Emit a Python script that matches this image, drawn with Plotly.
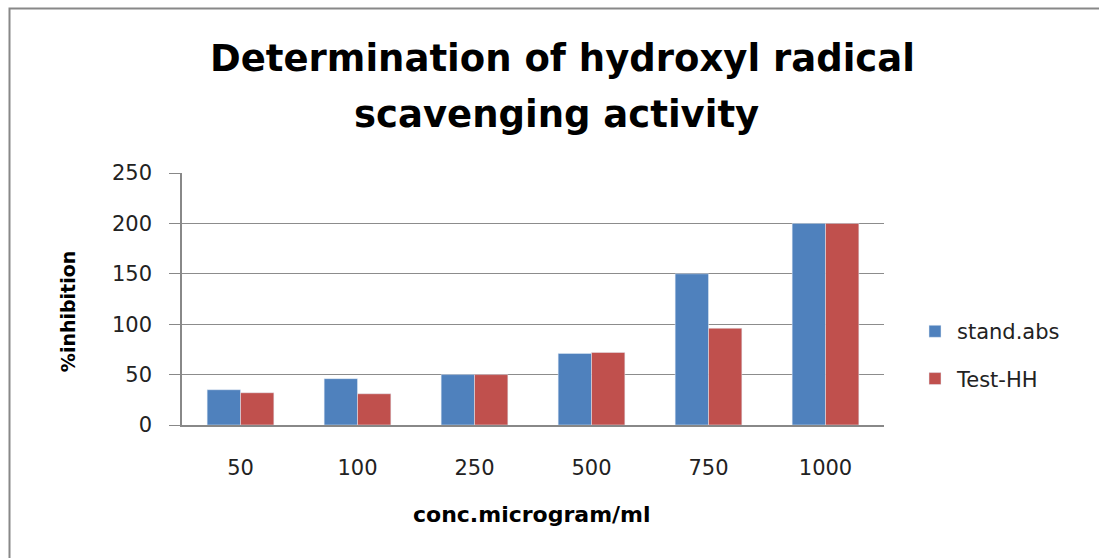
import plotly.graph_objects as go

categories = ["50", "100", "250", "500", "750", "1000"]
stand_abs = [35, 46, 50, 71, 150, 200]
test_hh = [32, 31, 50, 72, 96, 200]
y_ticks = [0, 50, 100, 150, 200, 250]
title_lines = ["Determination of hydroxyl radical", "scavenging activity"]

W, H = 1099, 558
L, R, T, B = 182, 884, 172.7, 425

def px(x):
    return (x - L) / (R - L)

def py(y):
    return (B - y) / (B - T)

FONT = "'DejaVu Sans', Verdana, sans-serif"

fig = go.Figure()
fig.add_trace(go.Bar(x=categories, y=stand_abs, name="stand.abs", marker_color="#4F81BD",
                     legendgroup="a"))
fig.add_trace(go.Bar(x=categories, y=test_hh, name="Test-HH", marker_color="#C0504D",
                     legendgroup="b"))

fig.update_layout(
    width=W, height=H,
    margin=dict(l=L, r=W - R, t=T, b=H - B, pad=0),
    paper_bgcolor="white", plot_bgcolor="white",
    barmode="group", bargap=0.43, bargroupgap=0,
    font=dict(family=FONT, color="#222222"),
    legend=dict(x=px(913), y=py(311), xanchor="left", yanchor="top",
                font=dict(size=21, family=FONT, color="#222222"),
                tracegroupgap=17, itemwidth=34, bgcolor="rgba(0,0,0,0)"),
    showlegend=True,
)
fig.update_xaxes(showline=True, linecolor="#888888", linewidth=1.5, showgrid=False,
                 ticks="", tickfont=dict(size=21, color="#222222"),
                 ticklabelstandoff=23)
fig.update_yaxes(range=[0, 250], tickvals=y_ticks, showline=True, linecolor="#888888",
                 linewidth=1.5, showgrid=True, gridcolor="#8c8c8c", gridwidth=1.2,
                 ticks="outside", ticklen=11, tickcolor="#888888",
                 tickfont=dict(size=21, color="#222222"), zeroline=False,
                 ticklabelstandoff=13)

# title (two lines)
for line, cx, cy in zip(title_lines, [562, 556], [58, 114]):
    fig.add_annotation(text="<b>" + line + "</b>", x=px(cx), y=py(cy), xref="paper",
                       yref="paper", showarrow=False, xanchor="center", yanchor="middle",
                       font=dict(size=37, family=FONT, color="#000000"))
# axis titles
fig.add_annotation(text="<b>conc.microgram/ml</b>", x=px(532), y=py(515), xref="paper",
                   yref="paper", showarrow=False, xanchor="center", yanchor="middle",
                   font=dict(size=22, family=FONT, color="#000000"))
fig.add_annotation(text="<b>%inhibition</b>", x=px(68), y=py(312), xref="paper",
                   yref="paper", showarrow=False, textangle=-90, xanchor="center",
                   yanchor="middle", font=dict(size=19, family=FONT, color="#000000"))
# outer chart border
fig.add_shape(type="rect", xref="paper", yref="paper", x0=px(9.5), x1=px(1110),
              y0=py(570), y1=py(8), line=dict(color="#888888", width=2), layer="below")

fig.write_html("out.html", config={"displayModeBar": False},
               post_script="document.body.style.margin='0';document.body.style.overflow='hidden';")
